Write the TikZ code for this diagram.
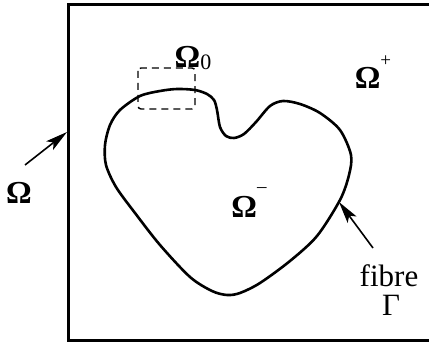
\documentclass[tikz,border=0pt]{standalone}
\usepackage{fontspec}
\setmainfont{Liberation Serif}
\usetikzlibrary{arrows.meta}
\begin{document}
\begin{tikzpicture}[x=1pt,y=-1pt,
  lbl/.style={font=\fontsize{32}{34}\selectfont, inner sep=0pt},
  pointer/.style={line width=1.6pt,-{Stealth[length=22pt,width=11pt,inset=5pt]}},
  thick line/.style={line width=2.6pt}]
\useasboundingbox (0,0) rectangle (429,342);
% outer domain (right edge cut off)
\draw[line width=3pt] (440,5) -- (68,5) -- (68,340) -- (440,340);
% dashed box
\draw[line width=1.4pt, dash pattern=on 7pt off 5pt, rounded corners=3pt] (138,68) rectangle (195,109);
% fibre
\draw[thick line] plot[smooth cycle, tension=0.5] coordinates {
 (105,145) (110,125) (120,110) (140,96) (160,91) (177,89) (195,90) (207,94) (214,100)
 (217,110) (220,127) (226,136) (234,138) (244,134) (256,122) (270,106) (283,101)
 (300,104) (320,113) (340,130) (351,155) (349,175) (340,200) (317,236) (290,261)
 (260,283) (240,293) (227,295) (212,291) (190,277) (160,245) (135,213) (116,187) (106,165)};
% labels
\node[lbl] (om0) at (193,58) {\textbf{Ω}\raisebox{-0.1ex}{\fontsize{22}{24}\selectfont 0}};
\node[lbl] (omp) at (373,72) {\textbf{Ω}\raisebox{1.5ex}{\fontsize{19}{20}\selectfont +}};
\node[lbl] (omm) at (249,203) {\textbf{Ω}\raisebox{1.7ex}{\fontsize{19}{20}\selectfont –}};
\node[lbl] (om) at (19,193) {\textbf{Ω}};
\node[lbl, font=\fontsize{31}{32}\selectfont, anchor=base, text depth=0pt] (fib) at (389,287) {fibre};
\node[lbl, font=\fontsize{31}{32}\selectfont, anchor=base, text height=20pt, text depth=0pt] (gam) at (391,316) {Γ};
\coordinate (a1s) at (25,165);
\coordinate (a1e) at (67,132);
\coordinate (a2s) at (373,248);
\coordinate (a2e) at (339,202);
\draw[pointer] (a1s) -- (a1e);
\draw[pointer] (a2s) -- (a2e);
\end{tikzpicture}
\end{document}
